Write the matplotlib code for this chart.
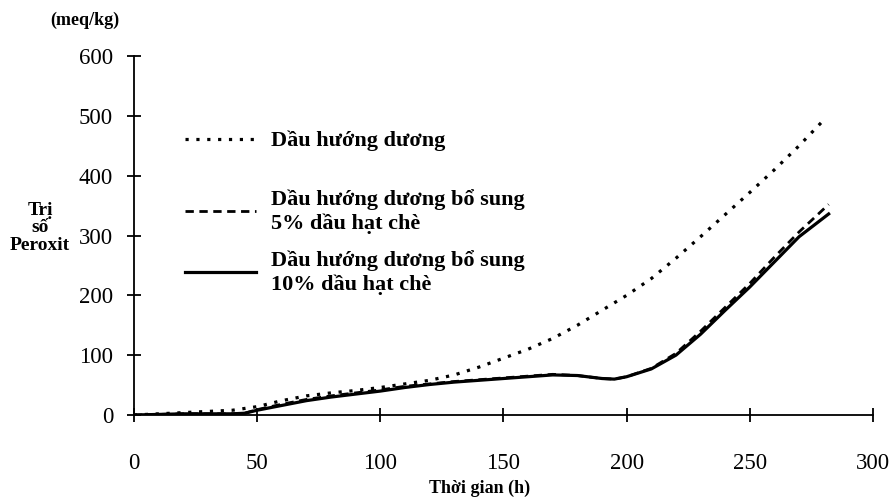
import matplotlib
matplotlib.use("Agg")
import matplotlib.pyplot as plt

# Data (time in h, peroxide value in meq/kg)
t_sun = [0, 10, 20, 30, 40, 50, 60, 70, 80, 90, 100, 110, 120, 130, 140, 150,
         160, 170, 180, 190, 200, 210, 220, 230, 240, 250, 260, 270, 280]
sunflower = [0, 2, 4, 6, 8, 14, 24, 32, 37, 41, 46, 52, 58, 67, 80, 95,
             110, 128, 150, 175, 200, 228, 262, 298, 335, 372, 410, 450, 493]

t_mix = [0, 10, 20, 30, 40, 45, 50, 60, 70, 80, 90, 100, 110, 120, 130, 140,
         150, 160, 170, 180, 190, 195, 200, 210, 220, 230, 240, 250, 260, 270, 282]
tea5 = [0, 1, 2, 2, 2, 3, 9, 18, 26, 32, 37, 42, 48, 52, 56, 59,
        62, 65, 68, 66, 61, 60, 64, 78, 103, 140, 180, 220, 264, 306, 352]
tea10 = [0, 1, 2, 2, 2, 3, 8, 16, 24, 30, 35, 40, 46, 51, 55, 58,
         61, 64, 67, 66, 61, 60, 64, 77, 100, 135, 175, 214, 256, 298, 336]

labels = ["Dầu hướng dương",
          "Dầu hướng dương bổ sung\n5% dầu hạt chè",
          "Dầu hướng dương bổ sung\n10% dầu hạt chè"]
x_ticks = [0, 50, 100, 150, 200, 250, 300]
y_ticks = [0, 100, 200, 300, 400, 500, 600]

plt.rcParams['font.family'] = ['Liberation Serif', 'DejaVu Serif']

W, H = 893, 499
fig = plt.figure(figsize=(W / 100, H / 100), dpi=100)
ax = fig.add_axes([0.150, 0.1683, 0.8276, 0.7195])

l1, = ax.plot(t_sun, sunflower, color='black', linewidth=2.3,
              linestyle=(0, (1, 2.4)))
l2, = ax.plot(t_mix, tea5, color='black', linewidth=2.0,
              linestyle=(0, (3, 2)))
l3, = ax.plot(t_mix, tea10, color='black', linewidth=2.3, linestyle='-')

ax.set_xlim(0, 300)
ax.set_ylim(0, 600)
ax.set_xticks(x_ticks)
ax.set_yticks(y_ticks)
ax.spines['top'].set_visible(False)
ax.spines['right'].set_visible(False)
for s in ('left', 'bottom'):
    ax.spines[s].set_linewidth(1.3)
ax.tick_params(axis='both', direction='inout', length=10, width=1.3,
               labelsize=16.5)
ax.tick_params(axis='y', pad=10)
ax.tick_params(axis='x', pad=22)

ax.set_xlabel("Thời gian (h)", fontsize=13, fontweight='bold')
ax.xaxis.set_label_coords(0.468, -0.18)

fig.text(85 / W, 1 - 20 / H, "(meq/kg)", fontsize=13, fontweight='bold',
         ha='center', va='center')
fig.text(40 / W, 1 - 228 / H, "Trị\nsố\nPeroxit", fontsize=14,
         fontweight='bold', ha='center', va='center', linespacing=1.05)

# legend split in two so the uneven gaps of the reference can be kept
leg_kw = dict(loc='center left', bbox_transform=fig.transFigure,
              frameon=False, prop={'size': 16, 'weight': 'bold'},
              handlelength=3.2, handletextpad=0.65, borderpad=0,
              borderaxespad=0)
leg1 = ax.legend([l1], labels[:1], bbox_to_anchor=(185 / W, 1 - 141 / H),
                 **leg_kw)
ax.add_artist(leg1)
leg2 = ax.legend([l2, l3], labels[1:], bbox_to_anchor=(185 / W, 1 - 242 / H),
                 labelspacing=0.72, **leg_kw)
for t in leg2.get_texts():
    t.set_linespacing(1.2)

fig.savefig("out.png", dpi=100)
